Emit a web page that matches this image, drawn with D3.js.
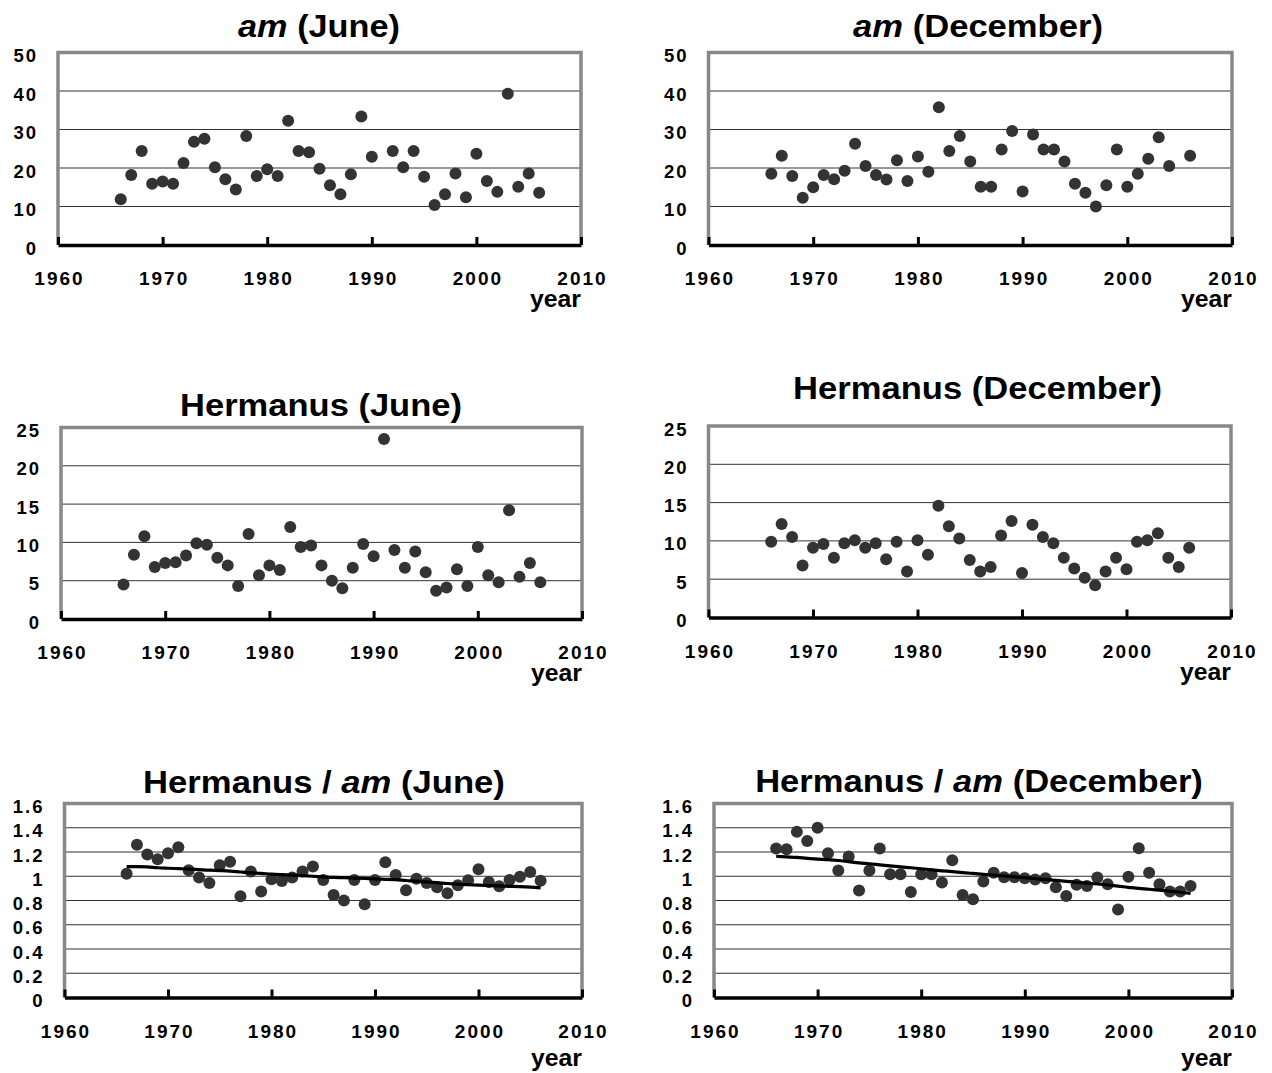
<!DOCTYPE html>
<html>
<head>
<meta charset="utf-8">
<script src="https://cdn.jsdelivr.net/npm/d3@7"></script>
<style>
  body { margin: 0; background: #fff; }
  svg { display: block; }
  text { font-family: "Liberation Sans", Arial, sans-serif; font-weight: bold; fill: #000; }
</style>
</head>
<body>
<svg id="chart" width="1272" height="1073"></svg>
<script>
// Years of observation
const years = [1966, 1967, 1968, 1969, 1970, 1971, 1972, 1973, 1974, 1975,
               1976, 1977, 1978, 1979, 1980, 1981, 1982, 1983, 1984, 1985,
               1986, 1987, 1988, 1989, 1990, 1991, 1992, 1993, 1994, 1995,
               1996, 1997, 1998, 1999, 2000, 2001, 2002, 2003, 2004, 2005, 2006];

// am index, June and December monthly means (null = no value)
const amJune = [11.9, 18.2, 24.4, 15.9, 16.5, 15.9, 21.3, 26.8, 27.6, 20.2,
                17.1, 14.4, 28.3, 17.9, 19.7, 17.9, 32.3, 24.4, 24.1, 19.8,
                15.5, 13.2, 18.4, 33.4, 22.9, null, 24.4, 20.2, 24.4, 17.7,
                10.4, 13.2, 18.6, 12.4, 23.7, 16.6, 13.8, 39.3, 15.1, 18.6, 13.6];
const amDec = [18.5, 23.2, 17.9, 12.3, 15.0, 18.2, 17.1, 19.3, 26.3, 20.5,
               18.2, 17.0, 22.0, 16.6, 23.0, 19.0, 35.8, 24.4, 28.3, 21.7,
               15.1, 15.1, 24.8, 29.6, 13.9, 28.7, 24.8, 24.8, 21.7, 15.9,
               13.6, 10.0, 15.5, 24.8, 15.1, 18.5, 22.4, 28.0, 20.5, null, 23.2];

// Hermanus K-based activity, June and December
const hermJune = [4.5, 8.4, 10.8, 6.8, 7.3, 7.4, 8.3, 9.9, 9.7, 8.0,
                  7.0, 4.3, 11.1, 5.7, 7.0, 6.4, 12.0, 9.4, 9.6, 7.0,
                  5.0, 4.0, 6.7, 9.8, 8.2, 23.5, 9.0, 6.7, 8.8, 6.1,
                  3.7, 4.1, 6.5, 4.3, 9.4, 5.7, 4.8, 14.2, 5.5, 7.3, 4.8];
const hermDec = [9.9, 12.2, 10.5, 6.8, 9.1, 9.6, 7.8, 9.7, 10.1, 9.1,
                 9.7, 7.6, 9.9, 6.0, 10.1, 8.2, 14.6, 11.9, 10.3, 7.5,
                 6.0, 6.6, 10.7, 12.6, 5.8, 12.1, 10.5, 9.7, 7.8, 6.4,
                 5.2, 4.2, 6.0, 7.8, 6.3, 9.9, 10.1, 11.0, 7.8, 6.6, 9.1];

// Hermanus / am ratio, June and December
const ratioJune = [1.02, 1.26, 1.18, 1.14, 1.19, 1.24, 1.05, 0.99, 0.945, 1.09,
                   1.12, 0.835, 1.04, 0.874, 0.976, 0.96, 0.99, 1.04, 1.08, 0.97,
                   0.846, 0.80, 0.97, 0.77, 0.97, 1.115, 1.01, 0.885, 0.98, 0.945,
                   0.91, 0.86, 0.926, 0.967, 1.058, 0.953, 0.918, 0.97, 0.995, 1.036, 0.962];
const ratioDec = [1.229, 1.223, 1.366, 1.29, 1.40, 1.19, 1.047, 1.163, 0.882, 1.047,
                  1.229, 1.017, 1.017, 0.871, 1.017, 1.017, 0.948, 1.132, 0.846, 0.81,
                  0.957, 1.028, 0.992, 0.992, 0.984, 0.973, 0.984, 0.91, 0.838, 0.929,
                  0.92, 0.99, 0.934, 0.726, 0.995, 1.231, 1.028, 0.934, 0.874, 0.874, 0.92];

// Smoothed trend of the ratio
const trendJune = [1.08, 1.08, 1.078, 1.07, 1.066, 1.063, 1.06, 1.055, 1.05, 1.047,
                   1.043, 1.035, 1.028, 1.024, 1.017, 1.013, 1.01, 1.005, 1.0, 0.995,
                   0.99, 0.988, 0.985, 0.982, 0.978, 0.975, 0.972, 0.965, 0.96, 0.953,
                   0.947, 0.94, 0.935, 0.93, 0.926, 0.923, 0.92, 0.917, 0.914, 0.91, 0.904];
const trendDec = [1.165, 1.16, 1.155, 1.148, 1.142, 1.137, 1.13, 1.12, 1.11, 1.103,
                  1.094, 1.086, 1.078, 1.07, 1.062, 1.053, 1.045, 1.038, 1.03, 1.023,
                  1.016, 1.009, 1.002, 0.995, 0.988, 0.98, 0.974, 0.966, 0.958, 0.95,
                  0.943, 0.936, 0.928, 0.918, 0.909, 0.9, 0.893, 0.885, 0.877, 0.868, 0.858];

// Axis ticks and labels
const xTicks = [1960, 1970, 1980, 1990, 2000, 2010];
const amTicks = [0, 10, 20, 30, 40, 50];
const amLabels = ["0", "10", "20", "30", "40", "50"];
const hermTicks = [0, 5, 10, 15, 20, 25];
const hermLabels = ["0", "5", "10", "15", "20", "25"];
const ratioTicks = [0, 0.2, 0.4, 0.6, 0.8, 1.0, 1.2, 1.4, 1.6];
const ratioLabels = ["0", "0.2", "0.4", "0.6", "0.8", "1", "1.2", "1.4", "1.6"];

const svg = d3.select("#chart");

const panels = [
  { title: [["am", true], [" (June)", false]], values: amJune,
    yTicks: amTicks, yLabels: amLabels,
    box: { left: 58, right: 581, top: 52.5, bottom: 245 }, titleAt: [319, 37, 162] },
  { title: [["am", true], [" (December)", false]], values: amDec,
    yTicks: amTicks, yLabels: amLabels,
    box: { left: 708.5, right: 1232, top: 52.5, bottom: 245 }, titleAt: [978, 37, 250] },
  { title: [["Hermanus (June)", false]], values: hermJune,
    yTicks: hermTicks, yLabels: hermLabels,
    box: { left: 61, right: 582, top: 427.5, bottom: 619 }, titleAt: [321, 416, 282] },
  { title: [["Hermanus (December)", false]], values: hermDec,
    yTicks: hermTicks, yLabels: hermLabels,
    box: { left: 708.5, right: 1231, top: 426, bottom: 617.5 }, titleAt: [977.5, 399, 369] },
  { title: [["Hermanus / ", false], ["am", true], [" (June)", false]], values: ratioJune, trend: trendJune,
    yTicks: ratioTicks, yLabels: ratioLabels,
    box: { left: 64.5, right: 582, top: 803.5, bottom: 997.5 }, titleAt: [324, 793, 362] },
  { title: [["Hermanus / ", false], ["am", true], [" (December)", false]], values: ratioDec, trend: trendDec,
    yTicks: ratioTicks, yLabels: ratioLabels,
    box: { left: 714, right: 1232, top: 803.5, bottom: 997.5 }, titleAt: [979, 792, 448] }
];

// Stretch a text group horizontally so it spans a given width
function fitWidth(g, text, width) {
  const w = text.node().getComputedTextLength();
  const t = g.attr("data-t");
  g.attr("transform", `${t} scale(${width / w},1)`);
}

panels.forEach(p => {
  const b = p.box;
  const yMax = p.yTicks[p.yTicks.length - 1];
  const x = d3.scaleLinear().domain([1960, 2010]).range([b.left, b.right]);
  const y = d3.scaleLinear().domain([0, yMax]).range([b.bottom, b.top]);
  const g = svg.append("g");

  // horizontal grid lines
  g.append("g").selectAll("line")
    .data(p.yTicks.filter(v => v > 0 && v < yMax))
    .join("line")
    .attr("x1", b.left).attr("x2", b.right)
    .attr("y1", d => y(d)).attr("y2", d => y(d))
    .attr("stroke", "#333").attr("stroke-width", 1);

  // grey plot frame (left, top, right)
  g.append("path")
    .attr("d", `M${b.left},${b.bottom}V${b.top}H${b.right}V${b.bottom}`)
    .attr("fill", "none").attr("stroke", "#888").attr("stroke-width", 3.5);

  // y axis labels
  const yAxis = g.append("g").attr("transform", `translate(${b.left},0)`)
    .call(d3.axisLeft(y).tickValues(p.yTicks)
      .tickFormat((d, i) => p.yLabels[i]).tickSize(0).tickPadding(22));
  yAxis.select(".domain").remove();
  yAxis.selectAll("text")
    .attr("dy", 9).attr("dx", 2)
    .style("font-size", "18.5px").style("letter-spacing", "2px")
    .style("font-family", "'Liberation Sans', Arial, sans-serif").style("font-weight", "bold")
    .attr("fill", "#000");

  // data points
  g.append("g").selectAll("circle")
    .data(years.map((yr, i) => [yr, p.values[i]]).filter(d => d[1] != null))
    .join("circle")
    .attr("cx", d => x(d[0])).attr("cy", d => y(d[1]))
    .attr("r", 6).attr("fill", "#333");

  // smoothed trend
  if (p.trend) {
    g.append("path")
      .datum(years.map((yr, i) => [yr, p.trend[i]]))
      .attr("d", d3.line().x(d => x(d[0])).y(d => y(d[1])).curve(d3.curveMonotoneX))
      .attr("fill", "none").attr("stroke", "#000").attr("stroke-width", 3.2)
      .attr("stroke-linejoin", "round");
  }

  // x axis (black, ticks pointing inward)
  const xAxis = g.append("g").attr("transform", `translate(0,${b.bottom})`)
    .call(d3.axisBottom(x).tickValues(xTicks).tickFormat(d3.format("d"))
      .tickSize(-8).tickSizeOuter(0).tickPadding(0));
  xAxis.select(".domain").attr("stroke", "#000").attr("stroke-width", 3.5);
  xAxis.selectAll(".tick line").attr("stroke", "#000").attr("stroke-width", 3);
  xAxis.selectAll("text")
    .attr("y", 40).attr("dy", 0).attr("dx", 1)
    .style("font-size", "19px").style("letter-spacing", "2px")
    .style("font-family", "'Liberation Sans', Arial, sans-serif").style("font-weight", "bold")
    .attr("fill", "#000");

  // axis name
  const yg = g.append("g")
    .attr("data-t", `translate(${b.right},${b.bottom + (p.trend ? 68 : 62)})`);
  const yt = yg.append("text").attr("text-anchor", "end")
    .style("font-size", "23px").text("year");
  fitWidth(yg, yt, 51);

  // panel title
  const [cx, base, tw] = p.titleAt;
  const tg = svg.append("g").attr("data-t", `translate(${cx},${base})`);
  const tt = tg.append("text").attr("text-anchor", "middle").style("font-size", "31px");
  p.title.forEach(([s, it]) => {
    tt.append("tspan").style("font-style", it ? "italic" : "normal").text(s);
  });
  fitWidth(tg, tt, tw);
});
</script>
</body>
</html>
